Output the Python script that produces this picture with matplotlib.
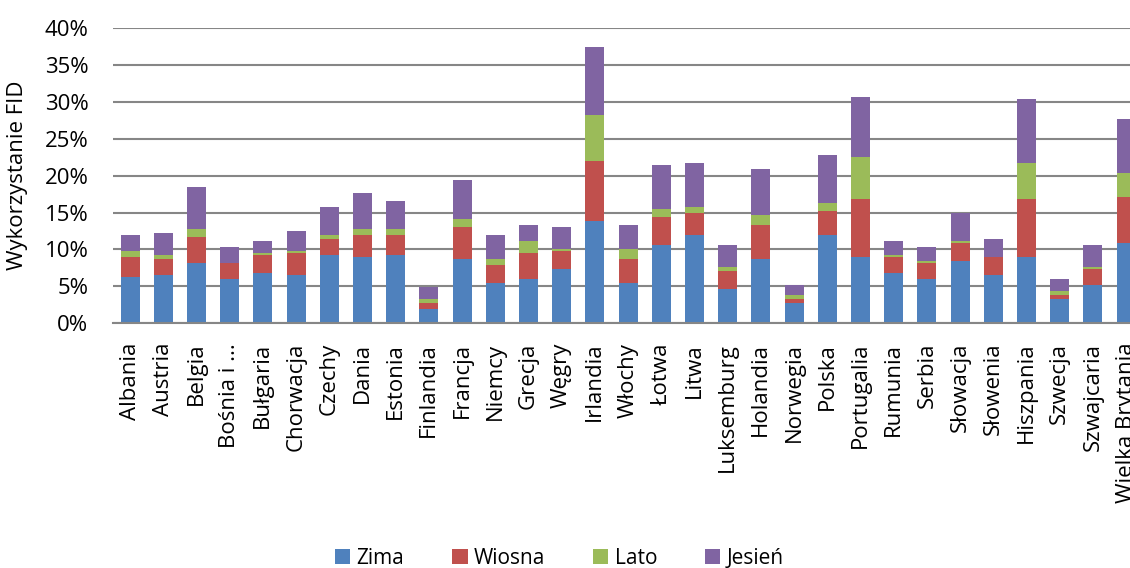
import numpy as np
import matplotlib.pyplot as plt
from matplotlib.ticker import MultipleLocator, FuncFormatter

plt.rcParams['font.family'] = ['Open Sans', 'DejaVu Sans']

countries = ['Albania', 'Austria', 'Belgia', 'Bośnia i ...', 'Bułgaria', 'Chorwacja',
             'Czechy', 'Dania', 'Estonia', 'Finlandia', 'Francja', 'Niemcy', 'Grecja',
             'Węgry', 'Irlandia', 'Włochy', 'Łotwa', 'Litwa', 'Luksemburg', 'Holandia',
             'Norwegia', 'Polska', 'Portugalia', 'Rumunia', 'Serbia', 'Słowacja',
             'Słowenia', 'Hiszpania', 'Szwecja', 'Szwajcaria', 'Wielka Brytania']

# udział w procentach dla każdej pory roku
zima = [6.3, 6.5, 8.2, 6.0, 6.8, 6.5, 9.25, 9.0, 9.25, 1.9, 8.7, 5.45, 6.0,
        7.35, 13.85, 5.45, 10.6, 12.0, 4.65, 8.7, 2.75, 12.0, 9.0, 6.8, 6.0,
        8.45, 6.55, 9.0, 3.3, 5.2, 10.9]
wiosna = [2.7, 2.2, 3.5, 2.2, 2.45, 3.0, 2.15, 3.0, 2.7, 0.8, 4.35, 2.45, 3.5,
          2.45, 8.15, 3.25, 3.8, 2.9, 2.45, 4.6, 0.55, 3.2, 7.85, 2.2, 2.2,
          2.45, 2.45, 7.85, 0.55, 2.15, 6.2]
lato = [0.8, 0.55, 1.1, 0.0, 0.3, 0.3, 0.55, 0.8, 0.8, 0.55, 1.1, 0.8, 1.65,
        0.25, 6.2, 1.35, 1.1, 0.85, 0.5, 1.35, 0.55, 1.1, 5.7, 0.25, 0.25,
        0.25, 0.0, 4.85, 0.55, 0.25, 3.25]
jesien = [2.2, 3.0, 5.7, 2.1, 1.6, 2.7, 3.8, 4.9, 3.8, 1.65, 5.2, 3.3, 2.15,
          3.0, 9.2, 3.25, 5.95, 5.95, 3.0, 6.25, 1.35, 6.5, 8.1, 1.9, 1.9,
          3.75, 2.4, 8.7, 1.6, 3.0, 7.35]

seasons = ['Zima', 'Wiosna', 'Lato', 'Jesień']
colors = ['#4F81BD', '#C0504D', '#9BBB59', '#8064A2']

fig = plt.figure(figsize=(11.3, 5.68), dpi=100)
# wykres celowo wychodzi za prawą krawędź
ax = fig.add_axes([0.1004, 0.4308, 0.9108, 0.5199])

x = np.arange(len(countries))
bottom = np.zeros(len(countries))
for name, vals, c in zip(seasons, [zima, wiosna, lato, jesien], colors):
    v = np.array(vals) / 100
    ax.bar(x, v, 0.57, bottom=bottom, color=c, label=name, zorder=2)
    bottom += v

ax.set_xlim(-0.5, len(countries) - 0.5)
ax.set_ylim(0, 0.40)
ax.yaxis.set_major_locator(MultipleLocator(0.05))
ax.yaxis.set_major_formatter(FuncFormatter(lambda v, p: f'{v * 100:.0f}%'))
ax.grid(axis='y', color='#868686', linewidth=1.5, zorder=0)
ax.set_axisbelow(True)

for s in ['top', 'right', 'left']:
    ax.spines[s].set_visible(False)
ax.spines['bottom'].set_color('#868686')
ax.spines['bottom'].set_linewidth(1.5)

ax.set_xticks(x)
ax.set_xticklabels(countries, rotation=90, fontsize=16, va='top', ha='center')
ax.tick_params(axis='x', length=0, pad=14)
ax.tick_params(axis='y', length=0, pad=18, labelsize=16)
ax.set_ylabel('Wykorzystanie FID', fontsize=16, labelpad=12)

fig.legend(loc='center', bbox_to_anchor=(0.495, 0.017), ncol=4, frameon=False,
           fontsize=15, handlelength=0.73, handleheight=0.73, handletextpad=0.3,
           columnspacing=2.3)

fig.savefig('out.png', dpi=100)
